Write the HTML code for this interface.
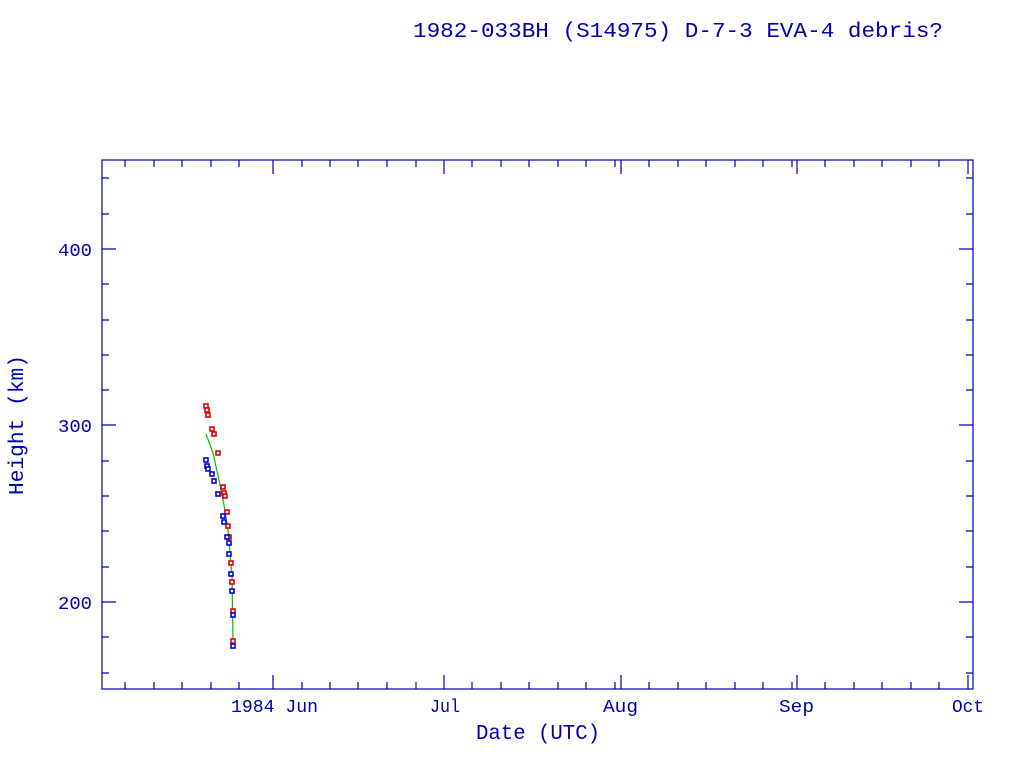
<!DOCTYPE html>
<html><head><style>body{margin:0;background:#fff}</style></head><body>
<svg width="1024" height="768" xmlns="http://www.w3.org/2000/svg" font-family="Liberation Mono, monospace" fill="#0000b0">
<rect width="1024" height="768" fill="#fff"/>
<text x="413" y="37" font-size="21" textLength="530" lengthAdjust="spacingAndGlyphs">1982-033BH (S14975) D-7-3 EVA-4 debris?</text>
<g stroke="#0000b0" stroke-width="1.2" fill="none">
<rect x="102" y="160" width="871" height="529"/>
<path d="M102 249h14M973 249h-14M102 425h14M973 425h-14M102 602h14M973 602h-14
M102 178h7M973 178h-7M102 214h7M973 214h-7M102 284h7M973 284h-7M102 320h7M973 320h-7M102 355h7M973 355h-7M102 390h7M973 390h-7
M102 461h7M973 461h-7M102 496h7M973 496h-7M102 531h7M973 531h-7M102 567h7M973 567h-7M102 637h7M973 637h-7M102 673h7M973 673h-7"/>
<path d="M273 689v-14M273 160v14M444 689v-14M444 160v14M621 689v-14M621 160v14M797 689v-14M797 160v14M968 689v-14M968 160v14
M125 689v-7M154 689v-7M182 689v-7M211 689v-7M239 689v-7M302 689v-7M330 689v-7M358 689v-7M387 689v-7M416 689v-7
M472 689v-7M501 689v-7M529 689v-7M558 689v-7M586 689v-7M615 689v-7
M649 689v-7M678 689v-7M706 689v-7M735 689v-7M763 689v-7M792 689v-7
M825 689v-7M854 689v-7M882 689v-7M911 689v-7M939 689v-7
M125 160v7M154 160v7M182 160v7M211 160v7M239 160v7M302 160v7M330 160v7M358 160v7M387 160v7M416 160v7
M472 160v7M501 160v7M529 160v7M558 160v7M586 160v7M615 160v7
M649 160v7M678 160v7M706 160v7M735 160v7M763 160v7M792 160v7
M825 160v7M854 160v7M882 160v7M911 160v7M939 160v7"/>
</g>
<g font-size="18">
<text x="58" y="256" textLength="34" lengthAdjust="spacingAndGlyphs">400</text>
<text x="58" y="432" textLength="34" lengthAdjust="spacingAndGlyphs">300</text>
<text x="58" y="609" textLength="34" lengthAdjust="spacingAndGlyphs">200</text>
<text x="231" y="712" textLength="87" lengthAdjust="spacingAndGlyphs">1984 Jun</text>
<text x="430" y="712" textLength="30" lengthAdjust="spacingAndGlyphs">Jul</text>
<text x="603" y="712" textLength="35" lengthAdjust="spacingAndGlyphs">Aug</text>
<text x="779" y="712" textLength="35" lengthAdjust="spacingAndGlyphs">Sep</text>
<text x="952" y="712" textLength="32" lengthAdjust="spacingAndGlyphs">Oct</text>
</g>
<text x="476" y="739" font-size="21" textLength="124" lengthAdjust="spacingAndGlyphs">Date (UTC)</text>
<text transform="translate(23,495) rotate(-90)" font-size="21" textLength="140" lengthAdjust="spacingAndGlyphs">Height (km)</text>
<polyline fill="none" stroke="#00c000" stroke-width="1.2" points="206,434 213,453 219,480 224,505 228,530 232,577 233,643"/>
<g fill="#fff" stroke-width="1.6">
<g stroke="#e00000">
<rect x="204" y="404" width="4" height="4"/><rect x="205" y="408" width="4" height="4"/><rect x="206" y="413" width="4" height="4"/>
<rect x="210" y="427" width="4" height="4"/><rect x="212" y="432" width="4" height="4"/><rect x="216" y="451" width="4" height="4"/>
<rect x="221" y="485" width="4" height="4"/><rect x="222" y="491" width="4" height="4"/><rect x="223" y="494" width="4" height="4"/>
<rect x="225" y="510" width="4" height="4"/><rect x="226" y="524" width="4" height="4"/><rect x="227" y="535" width="4" height="4"/>
<rect x="229" y="561" width="4" height="4"/><rect x="230" y="580" width="4" height="4"/><rect x="231" y="609" width="4" height="4"/><rect x="231" y="639" width="4" height="4"/>
</g>
<g stroke="#0000e0">
<rect x="204" y="458" width="4" height="4"/><rect x="205" y="464" width="4" height="4"/><rect x="206" y="467" width="4" height="4"/>
<rect x="210" y="472" width="4" height="4"/><rect x="212" y="479" width="4" height="4"/><rect x="216" y="492" width="4" height="4"/>
<rect x="221" y="514" width="4" height="4"/><rect x="222" y="520" width="4" height="4"/><rect x="225" y="535" width="4" height="4"/>
<rect x="227" y="541" width="4" height="4"/><rect x="227" y="552" width="4" height="4"/><rect x="229" y="572" width="4" height="4"/>
<rect x="230" y="589" width="4" height="4"/><rect x="231" y="613" width="4" height="4"/><rect x="231" y="644" width="4" height="4"/>
</g>
</g>
</svg>
</body></html>
